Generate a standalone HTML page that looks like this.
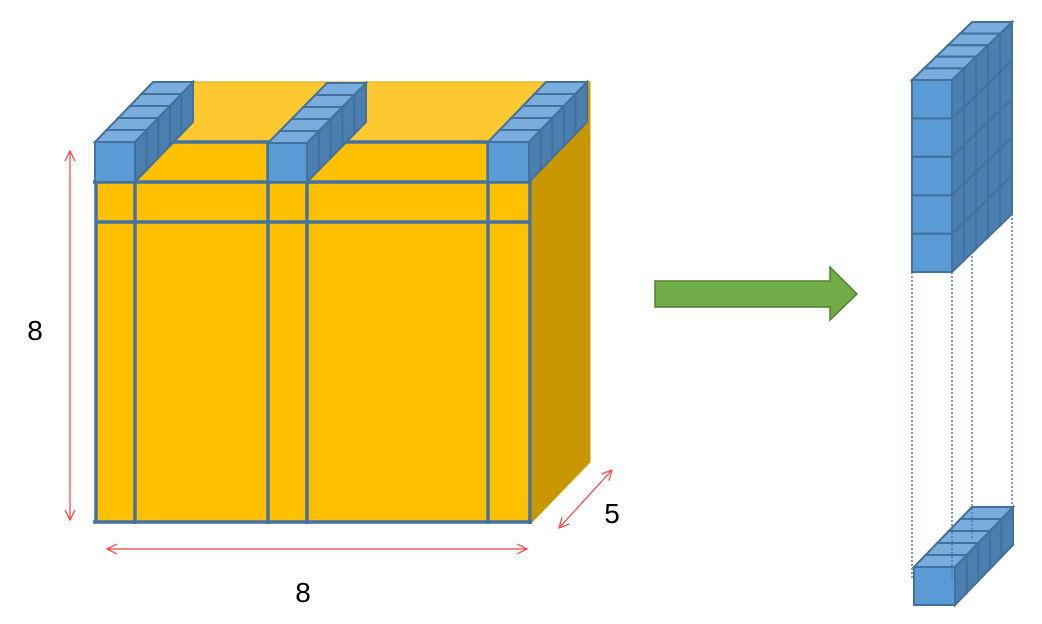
<!DOCTYPE html>
<html><head><meta charset="utf-8"><style>
html,body{margin:0;padding:0;background:#fff;}
svg{display:block;}
text{font-family:"Liberation Sans",sans-serif;}
</style></head><body>
<svg id="s" width="1042" height="624" viewBox="0 0 1042 624" xmlns="http://www.w3.org/2000/svg">
<defs>
<marker id="ah" markerWidth="12" markerHeight="12" refX="11" refY="6" orient="auto-start-reverse" markerUnits="userSpaceOnUse">
<path d="M1,1 L11,6 L1,11" fill="none" stroke="#ff3b3b" stroke-width="1.2"/></marker>
</defs>
<g>
<polygon points="532,142 590,82 590,462 532,522" fill="#c99800" stroke="#c99800"/>
<polygon points="95,142 532,142 590,82 153,82" fill="#fdc830" stroke="#d9a400" stroke-width="1"/>
<rect x="95" y="142" width="437" height="380" fill="#ffc000"/>
<g id="grid" stroke="#4472a4" stroke-width="3.5" fill="none">
<line x1="95" y1="142" x2="530" y2="142"/>
<line x1="93" y1="182" x2="532" y2="182"/>
<line x1="95" y1="222" x2="530" y2="222"/>
<line x1="93" y1="522" x2="532" y2="522"/>
<line x1="96" y1="142" x2="96" y2="522"/>
<line x1="135" y1="142" x2="135" y2="524"/>
<line x1="268" y1="142" x2="268" y2="524"/>
<line x1="307" y1="142" x2="307" y2="524"/>
<line x1="488" y1="142" x2="488" y2="524"/>
<line x1="530" y1="142" x2="530" y2="524"/>
</g>
</g>
<g id="cubes"></g>
<g stroke="#ff3b3b" stroke-width="1.2" fill="none">
<line x1="70" y1="151" x2="70" y2="520" marker-start="url(#ah)" marker-end="url(#ah)"/>
<line x1="107" y1="549" x2="527" y2="549" marker-start="url(#ah)" marker-end="url(#ah)"/>
<line x1="559" y1="528" x2="612" y2="470" marker-start="url(#ah)" marker-end="url(#ah)"/>
</g>
<text x="35" y="340" font-size="28" text-anchor="middle">8</text>
<text x="303" y="602" font-size="28" text-anchor="middle">8</text>
<text x="612" y="523" font-size="28" text-anchor="middle">5</text>
<polygon points="655,281 830,281 830,267 857,294 830,320 830,307 655,307" fill="#70ad47" stroke="#507e32" stroke-width="1.5"/>
<g id="dots" stroke="#4a7fb0" stroke-width="1.5" stroke-dasharray="2,2"></g>
</svg>
<script>
const NS="http://www.w3.org/2000/svg";
const cubesG=document.getElementById('cubes');
const F="#5b9bd5",T="#7aacdc",S="#4a7fb0",K="#41719c";
function poly(pts,fill,name){
  const p=document.createElementNS(NS,'polygon');
  p.setAttribute('points',pts.map(a=>a.join(',')).join(' '));
  p.setAttribute('fill',fill);p.setAttribute('stroke',K);p.setAttribute('stroke-width','2');
  
  
  cubesG.appendChild(p);
}
function stack(x,y,w,h,rows,depth,dx,dy){
  const ux=dx/depth,uy=dy/depth;
  for(let d=depth-1;d>=0;d--){
    for(let r=rows-1;r>=0;r--){
      const X=x+d*ux,Y=y+r*h+d*uy;
      poly([[X+w,Y],[X+w+ux,Y+uy],[X+w+ux,Y+h+uy],[X+w,Y+h]],S,'cube-side');
      if(r===0) poly([[X,Y],[X+w,Y],[X+w+ux,Y+uy],[X+ux,Y+uy]],T,'cube-top');
      poly([[X,Y],[X+w,Y],[X+w,Y+h],[X,Y+h]],F,'cube-front');
    }
  }
}
stack(95,142,40,40,1,5,58,-60);
stack(268,143,39,39,1,5,59,-60);
stack(488,142,41,40,1,5,58,-60);
stack(912,80,40,38.4,5,5,60,-58);
stack(914,567,41,38,1,5,58,-60);
const dots=document.getElementById('dots');
[[912,272,580],[952,272,580],[972,252,538],[1012,214,507]].forEach(a=>{
  const l=document.createElementNS(NS,'line');
  l.setAttribute('x1',a[0]);l.setAttribute('x2',a[0]);l.setAttribute('y1',a[1]);l.setAttribute('y2',a[2]);
  
  
  dots.appendChild(l);
});
</script>
</body></html>
